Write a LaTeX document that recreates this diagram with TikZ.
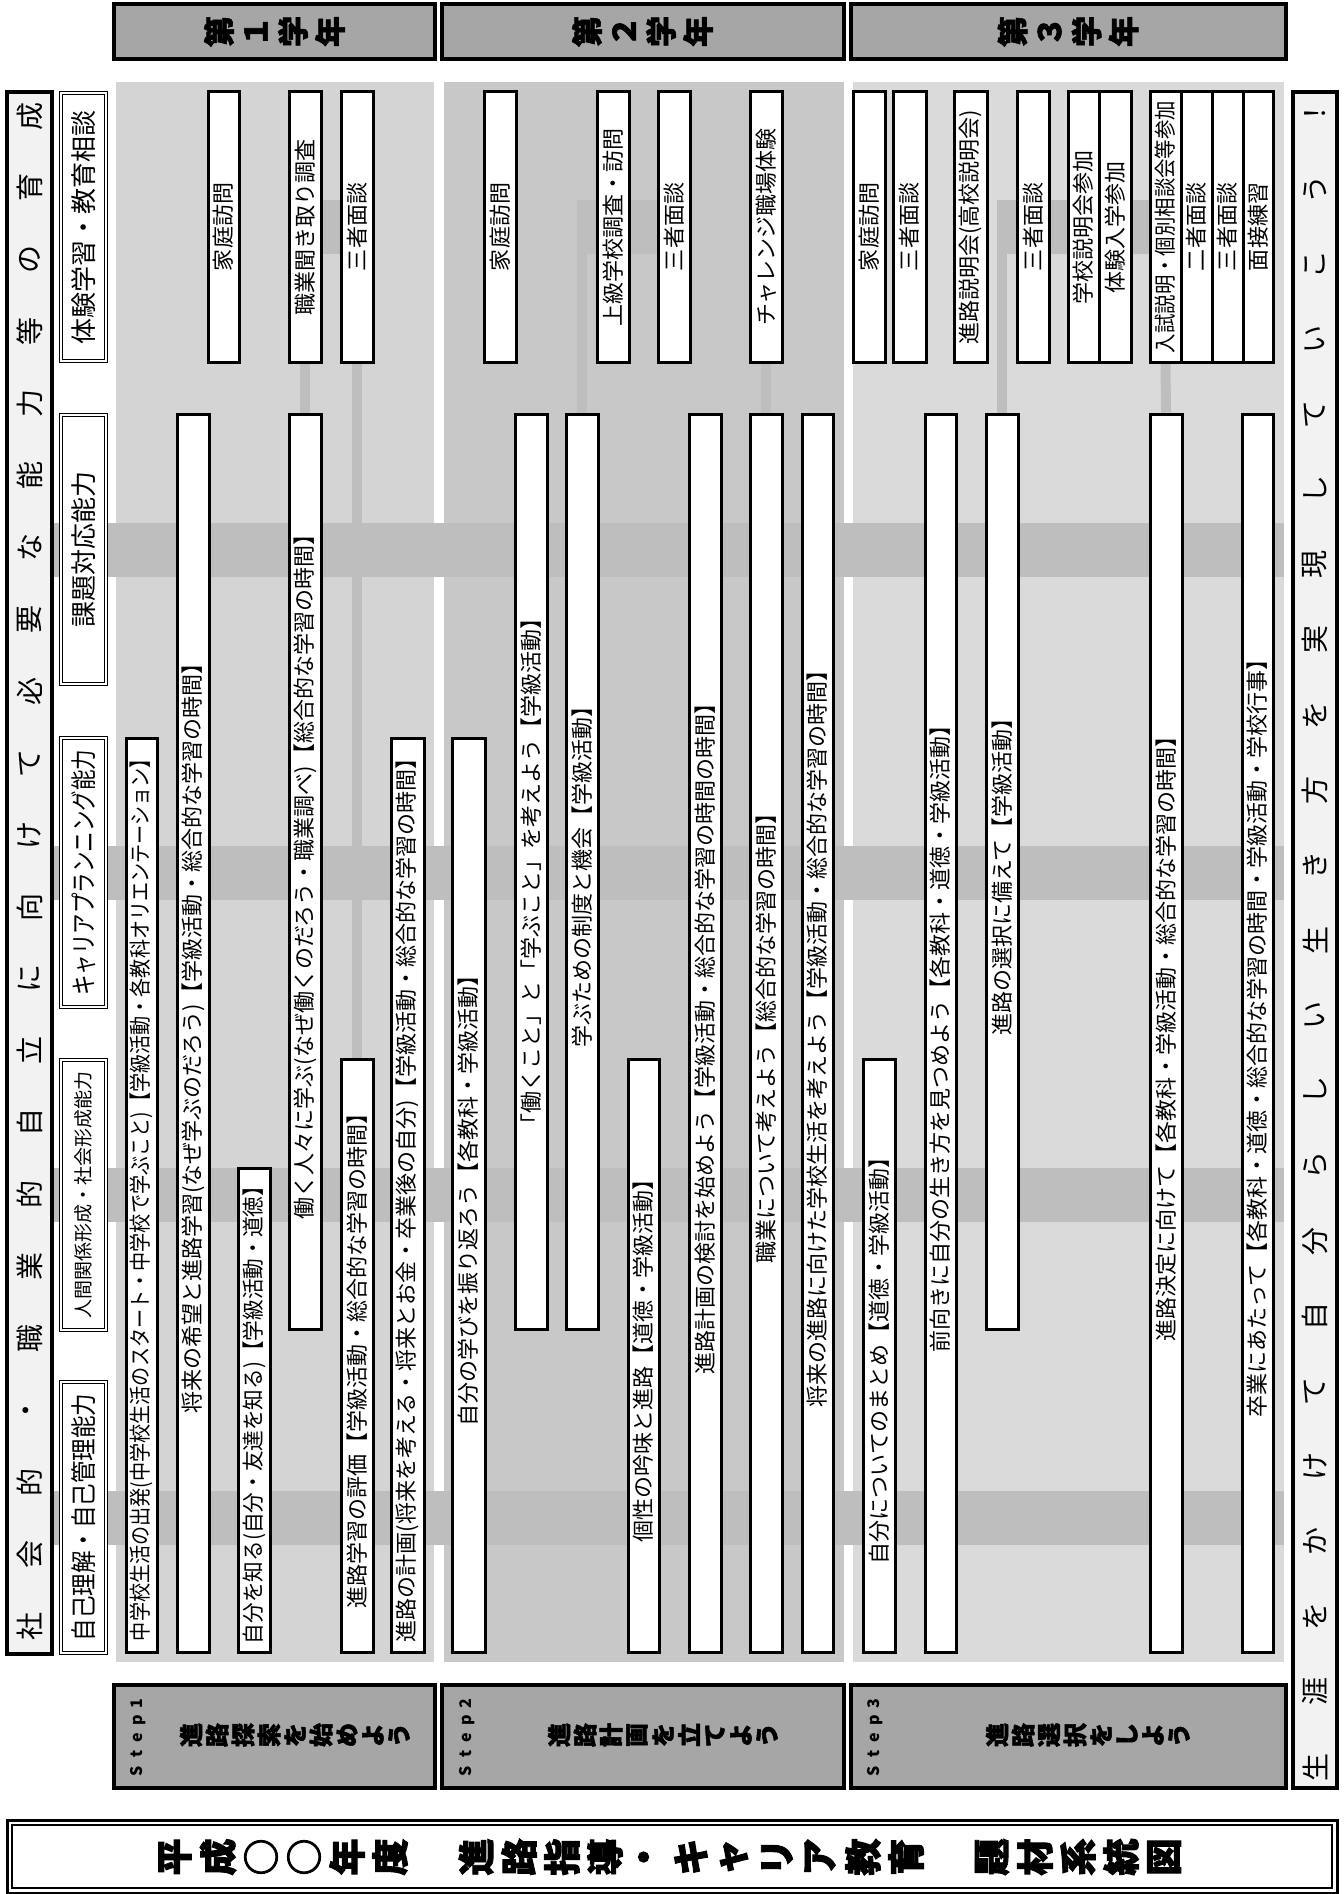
\documentclass[tikz,border=0pt]{standalone}
\usepackage{graphicx}
\usepackage{fontspec}
\setmainfont{Noto Sans CJK JP}
\usepackage{tikz}
\usetikzlibrary{backgrounds,calc}
\definecolor{areaA}{HTML}{D4D4D4}
\definecolor{areaB}{HTML}{C8C8C8}
\definecolor{areaC}{HTML}{DADADA}
\definecolor{bandg}{HTML}{BEBEBE}
\definecolor{headg}{HTML}{A6A6A6}
\definecolor{colg}{HTML}{F2F2F2}
\newcommand\fsz[1]{\fontsize{#1}{#1}\selectfont}
\newsavebox\fitbox
\newlength\fitlen
\newcommand\fitto[2]{\setlength\fitlen{#1}\sbox\fitbox{#2}%
  \ifdim\wd\fitbox>\fitlen\resizebox{\fitlen}{\height}{\usebox\fitbox}\else\usebox\fitbox\fi}

\begin{document}
\begin{tikzpicture}[x=1pt,y=-1pt,
  cell/.style 2 args={rotate=90,draw,line width=3pt,fill=white,inner sep=0pt,
    minimum width=#1pt,minimum height=#2pt,font=\fsz{22}},
  abil/.style 2 args={rotate=90,draw,double,line width=1.4pt,double distance=1.4pt,
    fill=white,inner sep=0pt,minimum width=#1pt,minimum height=#2pt,font=\fsz{26}},
  tab/.style 2 args={draw,line width=3.5pt,fill=headg,minimum width=#1pt,minimum height=#2pt},
  colbox/.style 2 args={rotate=90,draw,line width=3.5pt,fill=colg,minimum width=#1pt,minimum height=#2pt},
  colch/.style={rotate=90,inner sep=0pt,font=\fsz{28}},
  hdch/.style={rotate=90,inner sep=0pt,font=\fsz{31}\bfseries\addfontfeature{FakeBold=2}},
  stch/.style={rotate=90,inner sep=0pt,font=\fsz{24}\bfseries\addfontfeature{FakeBold=2}},
  ttch/.style={rotate=90,inner sep=0pt,font=\fsz{37}\bfseries\addfontfeature{FakeBold=2.5}},
  stepch/.style={rotate=90,anchor=base,inner sep=0pt,font=\fsz{16}\bfseries},
  band/.style={draw=bandg,line width=54pt},
  link/.style={draw=bandg,line width=10pt}]
\useasboundingbox (0,0) rectangle (1343,1894);

% grade headers
\node[tab={321}{55}] (hd1) at (274.5,31.5) {};
\node[tab={402}{55}] (hd2) at (643,31.5) {};
\node[tab={435}{55}] (hd3) at (1068.5,31.5) {};
\foreach \c [count=\i from 0] in {第,１,学,年}
  \node[hdch] (hda\i) at ({219+\i*37},31.5) {\c};
\foreach \c [count=\i from 0] in {第,２,学,年}
  \node[hdch] (hdb\i) at ({587+\i*37},31.5) {\c};
\foreach \c [count=\i from 0] in {第,３,学,年}
  \node[hdch] (hdc\i) at ({1012.5+\i*37},31.5) {\c};

% left and right columns
\node[colbox={1562}{45}] (shakai) at (29.5,873) {};
\foreach \c [count=\i from 0] in {社,会,的,・,職,業,的,自,立,に,向,け,て,必,要,な,能,力,等,の,育,成}
  \node[colch] (lc\i) at (29.5,{1626-\i*71.9}) {\c};
\node[colbox={1696}{44}] (shogai) at (1315,940) {};
\foreach \c [count=\i from 0] in {生,涯,を,か,け,て,自,分,ら,し,い,生,き,方,を,実,現,し,て,い,こ,う,！}
  \node[colch] (rc\i) at (1315,{1767-\i*75.14}) {\c};

% abilities
\node[abil={268}{45}] (ab0) at (83.5,227) {体験学習・教育相談};
\node[abil={269}{45}] (ab1) at (83.5,549.5) {課題対応能力};
\node[abil={269}{45}] (ab2) at (83.5,872.5) {\fitto{246pt}{キャリアプランニング能力}};
\node[abil={270}{45},font=\fsz{19}] (ab3) at (83.5,1195) {人間関係形成・社会形成能力};
\node[abil={271}{45}] (ab4) at (83.5,1517.5) {\fitto{248pt}{自己理解・自己管理能力}};

% grade 1
\node[cell={270}{31}] (y1home) at (223.5,227) {家庭訪問};
\node[cell={270}{32}] (y1job) at (305,227) {職業聞き取り調査};
\node[cell={270}{32}] (y1san) at (357,227) {三者面談};
\node[cell={914}{31}] (y1a) at (141.5,1195) {\fitto{892pt}{中学校生活の出発(中学校生活のスタート・中学校で学ぶこと)【学級活動・各教科オリエンテーション】}};
\node[cell={1238}{32}] (y1b) at (193,1033) {将来の希望と進路学習(なぜ学ぶのだろう)【学級活動・総合的な学習の時間】};
\node[cell={484}{32}] (y1c) at (254,1410) {\fitto{468pt}{自分を知る(自分・友達を知る)【学級活動・道徳】}};
\node[cell={915}{32}] (y1d) at (305,871.5) {働く人々に学ぶ(なぜ働くのだろう・職業調べ)【総合的な学習の時間】};
\node[cell={593}{32}] (y1e) at (357,1355.5) {進路学習の評価【学級活動・総合的な学習の時間】};
\node[cell={914}{33}] (y1f) at (407.5,1195) {\fitto{896pt}{進路の計画(将来を考える・将来とお金・卒業後の自分)【学級活動・総合的な学習の時間】}};

% grade 2
\node[cell={270}{32}] (y2home) at (500,227) {家庭訪問};
\node[cell={270}{32}] (y2jo) at (613,227) {上級学校調査・訪問};
\node[cell={270}{32}] (y2san) at (674,227) {三者面談};
\node[cell={270}{32}] (y2cha) at (766,227) {チャレンジ職場体験};
\node[cell={914}{33}] (y2g) at (468.5,1195) {自分の学びを振り返ろう【各教科・学級活動】};
\node[cell={915}{32}] (y2h) at (531,871.5) {「働くこと」と「学ぶこと」を考えよう【学級活動】};
\node[cell={915}{32}] (y2i) at (582,871.5) {学ぶための制度と機会【学級活動】};
\node[cell={593}{31}] (y2j) at (643.5,1355.5) {個性の吟味と進路【道徳・学級活動】};
\node[cell={1238}{32}] (y2k) at (705,1033) {進路計画の検討を始めよう【学級活動・総合的な学習の時間の時間】};
\node[cell={1238}{32}] (y2l) at (766,1033) {職業について考えよう【総合的な学習の時間】};
\node[cell={1238}{31}] (y2m) at (817.5,1033) {将来の進路に向けた学校生活を考えよう【学級活動・総合的な学習の時間】};

% grade 3
\node[cell={270}{32}] (y3home) at (869,227) {家庭訪問};
\node[cell={270}{33}] (y3san1) at (909.5,227) {三者面談};
\node[cell={270}{33}] (y3setu) at (970.5,227) {\fitto{252pt}{進路説明会(高校説明会)}};
\node[cell={270}{32}] (y3san2) at (1033,227) {三者面談};
\node[cell={270}{31}] (y3gak) at (1083.5,227) {学校説明会参加};
\node[cell={270}{32}] (y3tai) at (1115,227) {体験入学参加};
\node[cell={270}{31}] (y3nyu) at (1165.5,227) {\fitto{252pt}{入試説明・個別相談会等参加}};
\node[cell={270}{31}] (y3ni) at (1196.5,227) {二者面談};
\node[cell={270}{31}] (y3san3) at (1227.5,227) {三者面談};
\node[cell={270}{30}] (y3men) at (1258,227) {面接練習};
\node[cell={593}{32}] (y3n) at (879,1355.5) {自分についてのまとめ【道徳・学級活動】};
\node[cell={1238}{31}] (y3o) at (940.5,1033) {前向きに自分の生き方を見つめよう【各教科・道徳・学級活動】};
\node[cell={915}{32}] (y3p) at (1002,871.5) {進路の選択に備えて【学級活動】};
\node[cell={1238}{32}] (y3q) at (1166,1033) {進路決定に向けて【各教科・学級活動・総合的な学習の時間】};
\node[cell={1238}{31}] (y3r) at (1257.5,1033) {卒業にあたって【各教科・道徳・総合的な学習の時間・学級活動・学校行事】};

% steps
\node[tab={321}{103}] (st1) at (274.5,1736.5) {};
\node[tab={402}{103}] (st2) at (643,1736.5) {};
\node[tab={435}{103}] (st3) at (1068.5,1736.5) {};
\foreach \c [count=\i from 0] in {S,t,e,p,1}
  \node[stepch] (sta\i) at (142,{1771-\i*16.8}) {\c};
\foreach \c [count=\i from 0] in {S,t,e,p,2}
  \node[stepch] (stb\i) at (471,{1771-\i*16.8}) {\c};
\foreach \c [count=\i from 0] in {S,t,e,p,3}
  \node[stepch] (stc\i) at (879,{1771-\i*16.8}) {\c};
\foreach \c [count=\i from 0] in {進,路,探,索,を,始,め,よ,う}
  \node[stch] (sa\i) at ({191+\i*26},1735) {\c};
\foreach \c [count=\i from 0] in {進,路,計,画,を,立,て,よ,う}
  \node[stch] (sb\i) at ({559+\i*26},1735) {\c};
\foreach \c [count=\i from 0] in {進,路,選,択,を,し,よ,う}
  \node[stch] (sc\i) at ({997+\i*26},1735) {\c};

% title
\draw[line width=3pt] (7,1820) rectangle (1337,1893);
\draw[line width=1.2pt] (12,1825) rectangle (1332,1888);
\foreach \c [count=\i from 0] in {平,成,○,○,年,度}
  \node[ttch] (ta\i) at ({175+\i*43},1857) {\c};
\foreach \c [count=\i from 0] in {進,路,指,導,・,キ,ャ,リ,ア,教,育}
  \node[ttch] (tb\i) at ({476+\i*43},1857) {\c};
\foreach \c [count=\i from 0] in {題,材,系,統,図}
  \node[ttch] (tc\i) at ({992+\i*43},1857) {\c};

\coordinate (bandend) at (1284,0);
\begin{pgfonlayer}{background}
  \fill[areaA] (116,82) rectangle (434,1662);
  \fill[areaB] (444,82) rectangle (844,1662);
  \fill[areaC] (853,82) rectangle (1284,1662);
  \foreach \k in {1,...,4}
    \draw[band] (shakai.south |- ab\k.center) -- (bandend |- ab\k.center);
  % links between events
  \draw[band] (y1job.center) -- (y1san.center);
  \draw[link] (y1job.west) -- (y1d.east);
  \draw[link] (y1san.west) -- (y1e.east);
  \draw[band] ($(y2i.east |- y2jo.center)+(-5,0)$) -- (y2san.center);
  \draw[link] (y2i.east |- y2jo.center) -- (y2i.east);
  \draw[link] (y2cha.west) -- (y2l.east);
  \draw[band] ($(y3p.east |- y3san2.center)+(-5,0)$) -- (y3nyu.center);
  \draw[link] (y3p.east |- y3san2.center) -- (y3p.east);
  \draw[link] (y3nyu.west) -- (y3q.east);
\end{pgfonlayer}
\end{tikzpicture}
\end{document}
